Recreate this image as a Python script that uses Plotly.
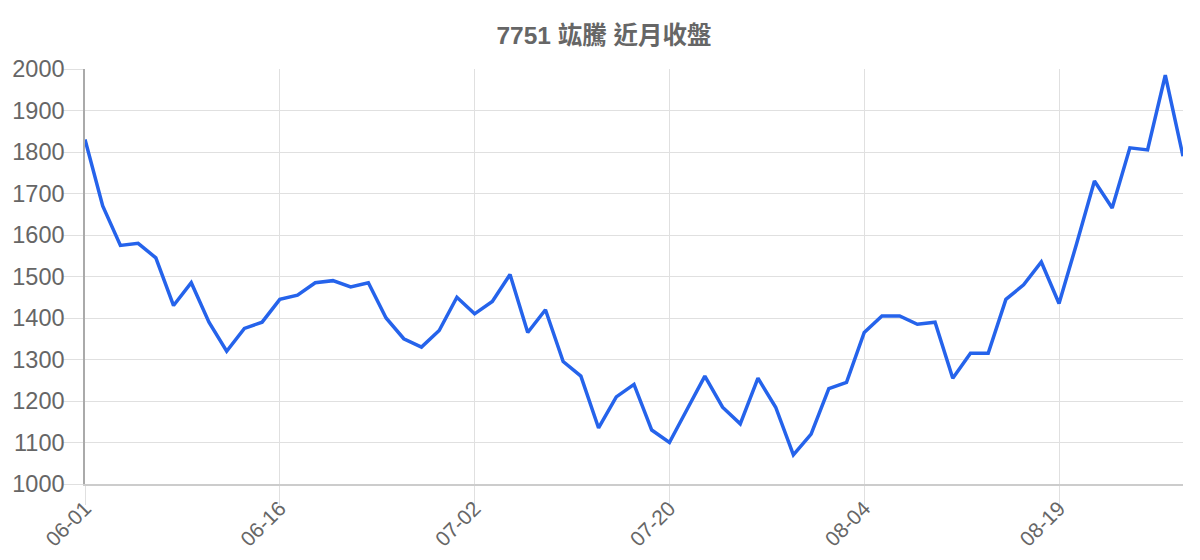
import plotly.graph_objects as go

# trading days (MM-DD) and closing prices
dates = [
    "06-01", "06-02", "06-03", "06-04", "06-05", "06-08", "06-09", "06-10", "06-11", "06-12", "06-15", "06-16",
    "06-17", "06-18", "06-22", "06-23", "06-24", "06-25", "06-26", "06-29", "06-30", "07-01", "07-02",
    "07-03", "07-06", "07-07", "07-08", "07-09", "07-13", "07-14", "07-15", "07-16", "07-17", "07-20",
    "07-21", "07-22", "07-23", "07-24", "07-27", "07-28", "07-29", "07-30", "07-31", "08-03", "08-04",
    "08-05", "08-06", "08-07", "08-10", "08-11", "08-12", "08-13", "08-14", "08-17", "08-18", "08-19",
    "08-20", "08-21", "08-24", "08-25", "08-26", "08-27", "08-28",
]
close = [
    1830, 1670, 1575, 1580, 1545, 1430, 1485, 1390, 1320, 1375, 1390, 1445,
    1455, 1485, 1490, 1475, 1485, 1400, 1350, 1330, 1370, 1450, 1410,
    1440, 1505, 1365, 1420, 1295, 1260, 1135, 1210, 1240, 1130, 1100,
    1180, 1260, 1185, 1145, 1255, 1185, 1070, 1120, 1230, 1245, 1365,
    1405, 1405, 1385, 1390, 1255, 1315, 1315, 1445, 1480, 1535, 1435,
    1580, 1730, 1665, 1810, 1805, 1985, 1790,
]
tick_labels = ["06-01", "06-16", "07-02", "07-20", "08-04", "08-19"]
title = "7751 竑騰 近月收盤"

FONT = "Liberation Sans, Arial, Noto Sans CJK TC, sans-serif"

fig = go.Figure(go.Scatter(
    x=dates,
    y=close,
    mode="lines",
    line=dict(color="#2563eb", width=3.5),
    hovertemplate="%{x}: %{y}<extra></extra>",
))

# page body has an 8px margin, so the figure is a bit smaller than the window
fig.update_layout(
    width=1192,
    height=552,
    margin=dict(l=77, r=17, t=61, b=76),
    paper_bgcolor="white",
    plot_bgcolor="white",
    showlegend=False,
    font=dict(family=FONT, color="#666666"),
    title=dict(
        text="<b>" + title + "</b>",
        x=0.5, xref="container", xanchor="center",
        y=1 - 27 / 552, yref="container", yanchor="middle",
        font=dict(family=FONT, size=24.5, color="#666666"),
    ),
)

fig.update_xaxes(
    type="category",
    range=[0, len(dates) - 1],
    tickmode="array",
    tickvals=tick_labels,
    ticktext=tick_labels,
    tickangle=-45,
    tickfont=dict(size=21, color="#666666"),
    ticks="outside",
    ticklen=19,
    tickcolor="#e0e0e0",
    ticklabelstandoff=-17,
    showgrid=True,
    gridcolor="#e0e0e0",
    gridwidth=1,
    showline=True,
    linecolor="#cccccc",
    linewidth=1.5,
    zeroline=False,
    automargin=False,
)

fig.update_yaxes(
    range=[1000, 2000],
    dtick=100,
    tickfont=dict(size=23.5, color="#666666"),
    ticks="outside",
    ticklen=20,
    tickcolor="#e0e0e0",
    ticklabelstandoff=-6,
    showgrid=True,
    gridcolor="#e0e0e0",
    gridwidth=1,
    showline=True,
    linecolor="#aaaaaa",
    linewidth=1.5,
    zeroline=False,
    automargin=False,
)

fig.write_html("out.html")
